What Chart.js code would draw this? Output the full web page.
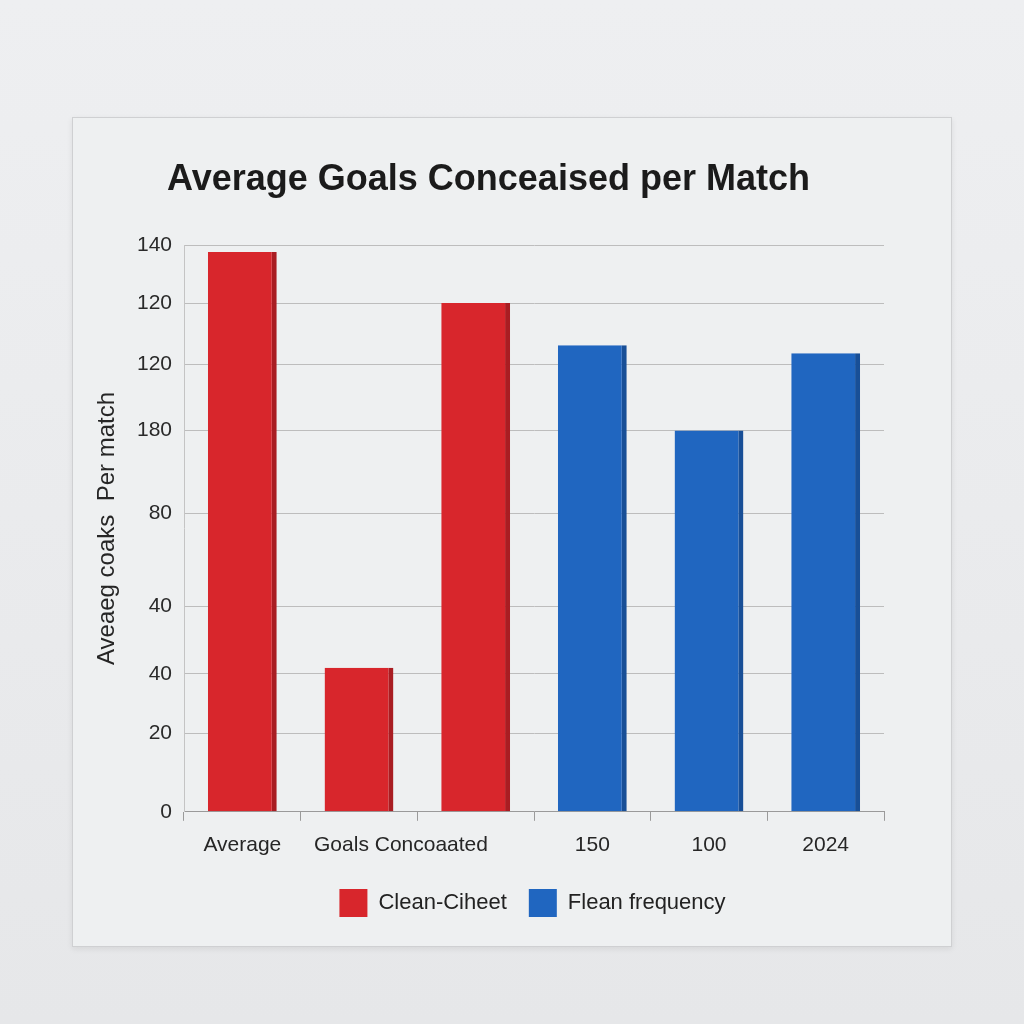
<!DOCTYPE html>
<html>
<head>
<meta charset="utf-8">
<script src="https://cdn.jsdelivr.net/npm/chart.js@4.4.1/dist/chart.umd.min.js"></script>
<style>
    html, body {
        margin: 0;
        padding: 0;
        width: 1024px;
        height: 1024px;
        background: linear-gradient(#eeeff1, #e6e7e9);
        overflow: hidden;
    }
    .card {
        position: absolute;
        left: 72px;
        top: 117px;
        width: 878px;
        height: 828px;
        background: #eef0f1;
        border: 1px solid #cfd0d2;
        box-shadow: 0 2px 6px rgba(0, 0, 0, 0.08);
    }
</style>
</head>
<body>
<div class="card">
    <canvas id="goalsChart" width="878" height="828"></canvas>
</div>
<script>
// ------------ data ------------
const categories = ["Average", "\u2003\u2003\u2003\u2003Goals Concoaated", "", "150", "100", "2024"];
const cleanSheet = [138.3, 35.6, 125.7, null, null, null];
const cleanFrequency = [null, null, null, 115.3, 94.2, 113.3];
const tickValues = [0, 19.3, 34.1, 50.7, 73.7, 94.2, 110.6, 125.7, 140];
const tickLabels = ["0", "20", "40", "40", "80", "180", "120", "120", "140"];

const fontFamily = "'Liberation Sans', Arial, sans-serif";

// legend sits a little right of centre in the picture
const legendShift = {
    id: 'legendShift',
    afterLayout(chart) {
        chart.legend.left += 44;
        chart.legend.right += 44;
    }
};

const goalsChart = document.getElementById("goalsChart");
new Chart(goalsChart, {
    type: 'bar',
    data: {
        labels: categories,
        datasets: [{
            label: "Clean-Ciheet",
            data: cleanSheet,
            backgroundColor: "#d8262c",
            borderColor: "#a91d22",
            borderWidth: { top: 0, left: 0, bottom: 0, right: 5 },
            borderSkipped: false,
            categoryPercentage: 1,
            barPercentage: 0.59,
        }, {
            label: "Flean frequency",
            data: cleanFrequency,
            backgroundColor: "#2066c0",
            borderColor: "#184f97",
            borderWidth: { top: 0, left: 0, bottom: 0, right: 5 },
            borderSkipped: false,
            categoryPercentage: 1,
            barPercentage: 0.59,
        }]
    },
    options: {
        responsive: false,
        animation: false,
        layout: {
            padding: { left: 20, right: 67, top: 20, bottom: 19 }
        },
        plugins: {
            title: {
                display: true,
                text: "Average Goals Conceaised per Match",
                color: "#1b1b1b",
                font: { family: fontFamily, size: 36, weight: 'bold' },
                padding: { top: 20, bottom: 44 }
            },
            legend: {
                position: 'bottom',
                labels: {
                    boxWidth: 28,
                    boxHeight: 28,
                    color: "#222",
                    padding: 22,
                    font: { family: fontFamily, size: 22 },
                    generateLabels: (chart) => chart.data.datasets.map((ds, i) => ({
                        text: ds.label,
                        fillStyle: ds.backgroundColor,
                        strokeStyle: ds.backgroundColor,
                        lineWidth: 0,
                        datasetIndex: i,
                        fontColor: "#222"
                    }))
                }
            },
            tooltip: { enabled: false }
        },
        scales: {
            x: {
                stacked: true,
                afterFit: (scale) => {
                    scale.height -= 3;
                },
                grid: {
                    drawOnChartArea: false,
                    drawTicks: true,
                    tickLength: 9,
                    color: "#9a9a9a",
                    offset: true
                },
                border: { color: "#9a9a9a" },
                ticks: {
                    autoSkip: false,
                    maxRotation: 0,
                    minRotation: 0,
                    padding: 12,
                    color: "#262626",
                    font: { family: fontFamily, size: 21 }
                }
            },
            y: {
                stacked: true,
                min: 0,
                max: 140,
                afterBuildTicks: (scale) => {
                    scale.ticks = tickValues.map(v => ({ value: v }));
                },
                afterFit: (scale) => {
                    scale.width = 91;
                },
                grid: {
                    color: "#bdbdbd",
                    drawTicks: false
                },
                border: { color: "#c4c4c4" },
                ticks: {
                    padding: 12,
                    color: "#2a2a2a",
                    font: { family: fontFamily, size: 21 },
                    callback: (value, index) => tickLabels[index]
                },
                title: {
                    display: true,
                    text: "Aveaeg coaks  Per match",
                    color: "#262626",
                    font: { family: fontFamily, size: 24 },
                    padding: 0
                }
            }
        }
    },
    plugins: [legendShift]
});
</script>
</body>
</html>
